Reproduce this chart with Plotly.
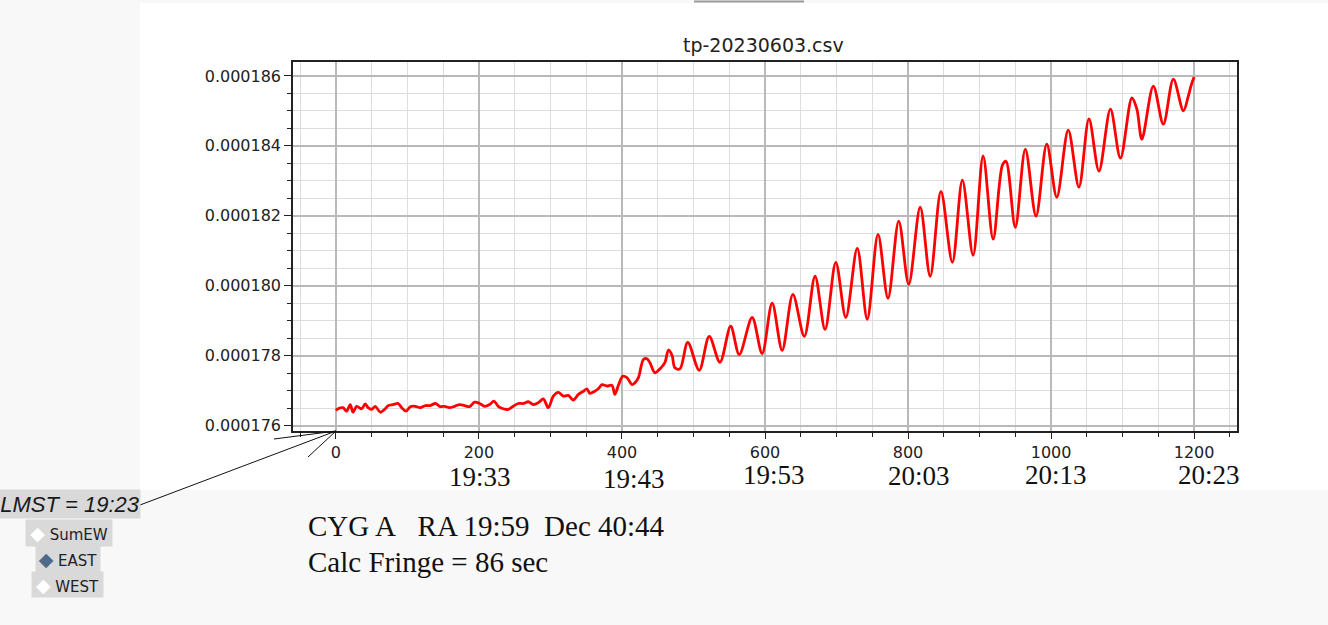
import plotly.graph_objects as go

# ---------------- data ----------------
sample_index = [
    0, 3, 10, 15, 20, 24, 29, 36, 41, 45, 50, 55, 62, 69, 73, 80, 87, 92, 98,
    104, 111, 118, 125, 132, 139, 146, 152, 159, 166, 173, 180, 187, 194, 201,
    208, 215, 221, 227, 234, 241, 248, 255, 262, 269, 276, 283, 290, 297, 304,
    311, 318, 325, 332, 339, 346, 351, 355, 362, 367, 372, 379, 386, 390, 395,
    401, 407, 414, 418, 423, 430, 435, 439, 446, 453, 460, 465, 470, 474, 481,
    492, 508, 522, 537, 552, 564, 582, 596, 610, 624, 639, 655, 670, 684, 699,
    713, 729, 743, 758, 772, 787, 801, 817, 831, 846, 862, 876, 891, 905, 919,
    932, 937, 950, 964, 979, 994, 1008, 1024, 1039, 1053, 1067, 1083, 1097,
    1113, 1120, 1127, 1143, 1157, 1171, 1185, 1192, 1196, 1200,
]

east_signal = [
    176.43e-6, 176.48e-6, 176.51e-6, 176.41e-6, 176.60e-6, 176.38e-6, 176.55e-6,
    176.48e-6, 176.62e-6, 176.51e-6, 176.46e-6, 176.55e-6, 176.38e-6, 176.48e-6,
    176.57e-6, 176.60e-6, 176.63e-6, 176.51e-6, 176.41e-6, 176.54e-6, 176.55e-6,
    176.51e-6, 176.57e-6, 176.57e-6, 176.63e-6, 176.54e-6, 176.55e-6, 176.51e-6,
    176.55e-6, 176.60e-6, 176.57e-6, 176.54e-6, 176.67e-6, 176.63e-6, 176.55e-6,
    176.60e-6, 176.70e-6, 176.55e-6, 176.48e-6, 176.46e-6, 176.55e-6, 176.63e-6,
    176.63e-6, 176.68e-6, 176.60e-6, 176.65e-6, 176.76e-6, 176.51e-6, 176.84e-6,
    176.95e-6, 176.84e-6, 176.86e-6, 176.73e-6, 176.89e-6, 176.98e-6, 177.05e-6,
    176.92e-6, 176.98e-6, 177.05e-6, 177.17e-6, 177.13e-6, 177.15e-6, 176.89e-6,
    177.15e-6, 177.41e-6, 177.37e-6, 177.17e-6, 177.22e-6, 177.37e-6, 177.89e-6,
    177.91e-6, 177.80e-6, 177.51e-6, 177.62e-6, 177.80e-6, 178.16e-6, 178.01e-6,
    177.65e-6, 177.62e-6,
    178.38e-6, 177.58e-6, 178.55e-6, 177.81e-6, 178.84e-6, 178.03e-6, 179.09e-6,
    178.06e-6, 179.50e-6, 178.15e-6, 179.75e-6, 178.55e-6, 180.27e-6, 178.75e-6,
    180.67e-6, 179.09e-6, 181.07e-6, 179.04e-6, 181.47e-6, 179.64e-6, 181.85e-6,
    180.04e-6, 182.25e-6, 180.27e-6, 182.70e-6, 180.67e-6, 183.02e-6, 180.87e-6,
    183.71e-6, 181.33e-6, 183.45e-6, 183.56e-6, 181.67e-6, 183.91e-6, 181.99e-6,
    184.05e-6, 182.53e-6, 184.45e-6, 182.82e-6, 184.77e-6, 183.28e-6, 185.05e-6,
    183.65e-6, 185.37e-6, 185.05e-6, 184.19e-6, 185.71e-6, 184.62e-6, 185.91e-6,
    185.00e-6, 185.43e-6, 185.74e-6, 185.97e-6,
]

time_labels = ["19:33", "19:43", "19:53", "20:03", "20:13", "20:23"]
chart_title = "tp-20230603.csv"
source_text = "CYG A\u00a0\u00a0\u00a0RA 19:59\u00a0\u00a0Dec 40:44"
fringe_text = "Calc Fringe = 86 sec"
lmst_text = "LMST = 19:23"
channel_labels = ["SumEW", "EAST", "WEST"]
selected_channel = "EAST"

# ---------------- layout helpers (pixel -> paper) ----------------
W, H = 1328, 625
L, R, T, B = 293, 91, 62, 194
PW = W - L - R
PH = H - T - B


def px(xp):
    return (xp - L) / PW


def py(yp):
    return (H - B - yp) / PH


time_label_pos = [(480, 477), (634, 479), (774, 475), (919, 476), (1056, 475), (1209, 475)]
channel_boxes = [(69, 533, 84, 24), (68, 559, 62, 24), (67.5, 584.5, 69, 23)]

fig = go.Figure()
fig.add_trace(go.Scatter(
    x=sample_index, y=east_signal, mode="lines",
    line=dict(color="#ff0000", width=2.8, shape="spline", smoothing=0.9),
    showlegend=False, hoverinfo="skip",
))

axis_common = dict(
    showline=True, linecolor="#222222", linewidth=1.5, mirror=True,
    ticks="outside", tickcolor="#222222", tickwidth=1,
    showgrid=True, gridcolor="#b9b9b9", gridwidth=1.6,
    zeroline=False,
    tickfont=dict(family="DejaVu Sans", size=16, color="#222222"),
)

fig.update_xaxes(
    range=[-60, 1260], tick0=0, dtick=200, ticklen=6,
    minor=dict(dtick=50, tick0=0, ticks="outside", ticklen=4, tickcolor="#222222",
               showgrid=True, gridcolor="#dddddd", gridwidth=1.4),
    **axis_common,
)
fig.update_yaxes(
    range=[175.843e-6, 186.40e-6], tick0=0, dtick=2e-6, tickformat=".6f", ticklen=7,
    minor=dict(dtick=0.5e-6, tick0=0, ticks="outside", ticklen=4, tickcolor="#222222",
               showgrid=True, gridcolor="#dddddd", gridwidth=1.4),
    **axis_common,
)

shapes = [
    # white canvas region
    dict(type="rect", xref="paper", yref="paper", x0=px(140), x1=px(W), y0=py(490), y1=py(3),
         fillcolor="#ffffff", line=dict(width=0), layer="below"),
    # small top bar
    dict(type="line", xref="paper", yref="paper", x0=px(694), x1=px(804), y0=py(1.5), y1=py(1.5),
         line=dict(color="#9a9a9a", width=2)),
    # LMST pointer and its head
    dict(type="line", xref="paper", yref="paper", x0=px(140), y0=py(505), x1=px(336), y1=py(431),
         line=dict(color="#111111", width=1)),
    dict(type="line", xref="paper", yref="paper", x0=px(274), y0=py(439), x1=px(336), y1=py(431),
         line=dict(color="#111111", width=1)),
    dict(type="line", xref="paper", yref="paper", x0=px(308), y0=py(457), x1=px(336), y1=py(431),
         line=dict(color="#111111", width=1)),
]

annotations = [
    dict(text=chart_title, xref="paper", yref="paper", x=px(763), y=py(45),
         xanchor="center", yanchor="middle", showarrow=False,
         font=dict(family="DejaVu Sans", size=19, color="#222222")),
    dict(text=source_text, xref="paper", yref="paper", x=px(306), y=py(526),
         xanchor="left", yanchor="middle", showarrow=False,
         font=dict(family="Liberation Serif", size=29, color="#111111")),
    dict(text=fringe_text, xref="paper", yref="paper", x=px(306), y=py(562),
         xanchor="left", yanchor="middle", showarrow=False,
         font=dict(family="Liberation Serif", size=29, color="#111111")),
    dict(text="<i>" + lmst_text + "</i>", xref="paper", yref="paper", x=px(70), y=py(504),
         xanchor="center", yanchor="middle", showarrow=False, width=138, height=26,
         borderpad=1, bgcolor="#d9d9d9",
         font=dict(family="Liberation Sans", size=22, color="#1a1a1a")),
]

for lbl, (xp, yp) in zip(time_labels, time_label_pos):
    annotations.append(dict(
        text=lbl, xref="paper", yref="paper", x=px(xp), y=py(yp),
        xanchor="center", yanchor="middle", showarrow=False,
        font=dict(family="Liberation Serif", size=27, color="#111111")))

for lbl, (cx, cy, bw, bh) in zip(channel_labels, channel_boxes):
    dcol = "#4f6a88" if lbl == selected_channel else "#ffffff"
    annotations.append(dict(
        text='<span style="color:%s;font-size:19px">\u25c6</span>\u00a0%s' % (dcol, lbl),
        xref="paper", yref="paper", x=px(cx), y=py(cy),
        xanchor="center", yanchor="middle", showarrow=False,
        width=bw, height=bh, borderpad=1, bgcolor="#d9d9d9",
        font=dict(family="DejaVu Sans", size=15, color="#222222")))

fig.update_layout(
    width=W, height=H,
    margin=dict(l=L, r=R, t=T, b=B, pad=0),
    paper_bgcolor="#f8f8f8", plot_bgcolor="#ffffff",
    shapes=shapes, annotations=annotations,
    showlegend=False,
)

fig.write_html(
    "out.html",
    config={"displayModeBar": False},
    post_script="document.body.style.margin='0';document.body.style.overflow='hidden';",
)
